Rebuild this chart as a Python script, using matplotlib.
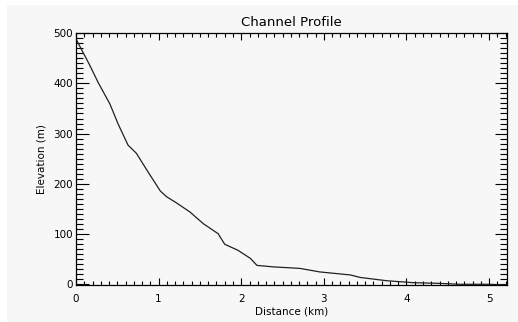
import numpy as np
import matplotlib.pyplot as plt
from matplotlib.ticker import MultipleLocator
from matplotlib.patches import Rectangle

# channel long profile, distance downstream vs elevation
distance = [0.0, 0.16, 0.27, 0.41, 0.51, 0.63, 0.73, 0.875, 1.02, 1.10, 1.20,
            1.38, 1.54, 1.72, 1.80, 1.96, 2.11, 2.19, 2.39, 2.71, 2.95, 3.32,
            3.44, 3.76, 4.08, 4.37, 4.65, 5.01, 5.22]
elevation = [488, 438, 401, 359, 319, 277, 261, 223, 186, 174, 164,
             144, 121, 101, 80, 68, 52, 38, 35, 32, 25, 19,
             14, 7.5, 3.6, 2.4, 0.4, 0.4, -1.0]

bg = '#f7f7f7'
plt.rcParams['font.family'] = ['DejaVu Sans']

fig = plt.figure(figsize=(5.18, 3.22), dpi=100, facecolor='white')
fig.patches.append(Rectangle((7/518, 0), 1, 1 - 5/322, transform=fig.transFigure,
                             facecolor=bg, edgecolor='none', zorder=-10))
ax = fig.add_axes([76/518, 1 - 285.3/322, 431.3/518, 252.3/322])
ax.set_facecolor(bg)

ax.plot(distance, elevation, color='#202020', lw=0.9)

ax.set_xlim(0, 5.22)
ax.set_ylim(-1.6, 500)
ax.xaxis.set_major_locator(MultipleLocator(1))
ax.xaxis.set_minor_locator(MultipleLocator(0.1))
ax.yaxis.set_major_locator(MultipleLocator(100))
ax.yaxis.set_minor_locator(MultipleLocator(10))
ax.tick_params(which='both', direction='in', top=True, right=True,
               colors='black', labelsize=7.5, width=0.8)
ax.tick_params(axis='x', which='major', length=5, pad=6)
ax.tick_params(axis='x', which='minor', length=3)
ax.tick_params(axis='y', which='major', length=9, pad=2)
ax.tick_params(axis='y', which='minor', length=5)
for s in ax.spines.values():
    s.set_linewidth(0.9)

ax.set_title('Channel Profile', fontsize=9.5, pad=5)
ax.set_xlabel('Distance (km)', fontsize=7.5, labelpad=2)
ax.set_ylabel('Elevation (m)', fontsize=7.5, labelpad=5)

fig.savefig('out.png', dpi=100, facecolor=fig.get_facecolor())
